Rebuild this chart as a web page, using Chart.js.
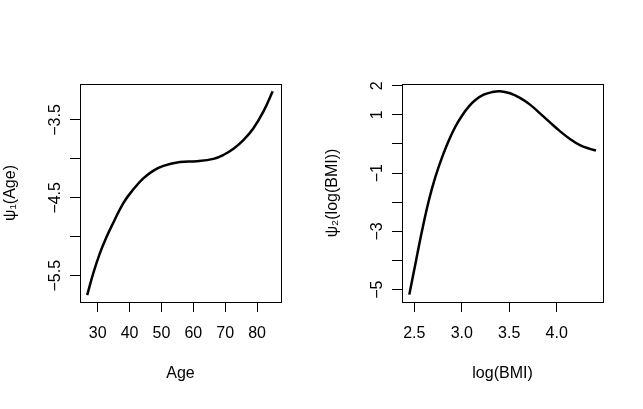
<!DOCTYPE html>
<html><head><meta charset="utf-8">
<script src="https://cdn.jsdelivr.net/npm/chart.js@4.4.1/dist/chart.umd.min.js"></script>
<style>
html,body{margin:0;padding:0;background:#fff;width:643px;height:409px;overflow:hidden}
canvas{position:absolute;top:0}
</style></head><body>
<canvas id="c1" width="321" height="409" style="left:0"></canvas>
<canvas id="c2" width="321" height="409" style="left:322px"></canvas>
<script>
// Panel 1: psi1(Age)
const ageValues = [26.7, 28.6, 30.7, 32.8, 34.9, 38.0, 41.2, 44.3, 47.5, 50.6, 55.8, 61.1, 66.3, 69.4, 72.6, 75.7, 78.8, 82.0, 84.9];
const psi1Values = [-5.75, -5.47, -5.21, -5.00, -4.82, -4.57, -4.39, -4.25, -4.15, -4.09, -4.04, -4.03, -4.00, -3.95, -3.87, -3.76, -3.61, -3.39, -3.13];
const ageXRange = [24.45, 87.5];
const ageYRange = [-5.838, -3.038];
const ageXTicks = [30, 40, 50, 60, 70, 80];
const ageXTickLabels = ['30', '40', '50', '60', '70', '80'];
const ageYTicks = [-5.5, -5, -4.5, -4, -3.5];
const ageYTickLabels = ['\u22125.5', '', '\u22124.5', '', '\u22123.5'];

// Panel 2: psi2(log(BMI))
const logBmiValues = [2.447, 2.511, 2.581, 2.652, 2.721, 2.792, 2.862, 2.932, 3.002, 3.073, 3.143, 3.231, 3.318, 3.403, 3.508, 3.613, 3.719, 3.824, 3.929, 4.034, 4.140, 4.245, 4.350, 4.414];
const psi2Values = [-5.17, -4.12, -2.98, -1.95, -1.14, -0.46, 0.11, 0.59, 0.97, 1.28, 1.51, 1.69, 1.78, 1.81, 1.74, 1.58, 1.35, 1.05, 0.74, 0.44, 0.17, -0.04, -0.17, -0.23];
const bmiXRange = [2.370, 4.488];
const bmiYRange = [-5.423, 2.058];
const bmiXTicks = [2.5, 3.0, 3.5, 4.0];
const bmiXTickLabels = ['2.5', '3.0', '3.5', '4.0'];
const bmiYTicks = [-5, -4, -3, -2, -1, 0, 1, 2];
const bmiYTickLabels = ['\u22125', '', '\u22123', '', '\u22121', '', '1', '2'];

const FONT = {family: "'Liberation Sans', Arial, Helvetica, sans-serif", size: 16};

const boxPlugin = {
  id: 'box',
  afterDraw(chart) {
    const {ctx, chartArea: a} = chart;
    ctx.save();
    ctx.strokeStyle = '#000';
    ctx.lineWidth = 1;
    ctx.strokeRect(Math.round(a.left) + 0.5, Math.round(a.top) + 0.5,
                   Math.round(a.right - a.left), Math.round(a.bottom - a.top));
    ctx.restore();
  }
};

function makePanel(id, xs, ys, xRange, yRange, xTicks, xLabels, yTicks, yLabels, xTitle, yTitle, yPad) {
  const pts = xs.map((x, i) => ({x: x, y: ys[i]}));
  return new Chart(document.getElementById(id), {
    type: 'line',
    data: {datasets: [{
      data: pts, borderColor: '#000', borderWidth: 2.5, pointRadius: 0,
      fill: false, tension: 0.4, borderCapStyle: 'butt', borderJoinStyle: 'round'
    }]},
    plugins: [boxPlugin],
    options: {
      responsive: false, animation: false, devicePixelRatio: 1,
      layout: {padding: {left: 0, right: 40, top: 84, bottom: 26}},
      plugins: {legend: {display: false}, tooltip: {enabled: false}},
      scales: {
        x: {
          type: 'linear', min: xRange[0], max: xRange[1],
          afterBuildTicks: s => { s.ticks = xTicks.map(v => ({value: v})); },
          afterFit: s => { s.height = 81; },
          grid: {display: true, drawOnChartArea: false, drawTicks: true, tickLength: 10, color: '#000', lineWidth: 1},
          border: {display: false},
          ticks: {autoSkip: false, minRotation: 0, maxRotation: 0, color: '#000', font: FONT, padding: 12,
                  callback: (v, i) => xLabels[i]},
          title: {display: true, text: xTitle, color: '#000', font: FONT, padding: {top: 0, bottom: 0}}
        },
        y: {
          type: 'linear', min: yRange[0], max: yRange[1],
          afterBuildTicks: s => { s.ticks = yTicks.map(v => ({value: v})); },
          afterFit: s => { s.width = 80; },
          grid: {display: true, drawOnChartArea: false, drawTicks: true, tickLength: 10, color: '#000', lineWidth: 1},
          border: {display: false},
          ticks: {autoSkip: false, minRotation: 90, maxRotation: 90, crossAlign: 'center', color: '#000', font: FONT,
                  padding: yPad, callback: (v, i) => yLabels[i]},
          title: {display: true, text: yTitle, color: '#000', font: FONT, padding: {top: 1, bottom: 0}}
        }
      }
    }
  });
}

makePanel('c1', ageValues, psi1Values, ageXRange, ageYRange, ageXTicks, ageXTickLabels,
          ageYTicks, ageYTickLabels, 'Age', '\u03C8\u2081(Age)', -1);
makePanel('c2', logBmiValues, psi2Values, bmiXRange, bmiYRange, bmiXTicks, bmiXTickLabels,
          bmiYTicks, bmiYTickLabels, 'log(BMI)', '\u03C8\u2082(log(BMI))', 5);
</script>
</body></html>
